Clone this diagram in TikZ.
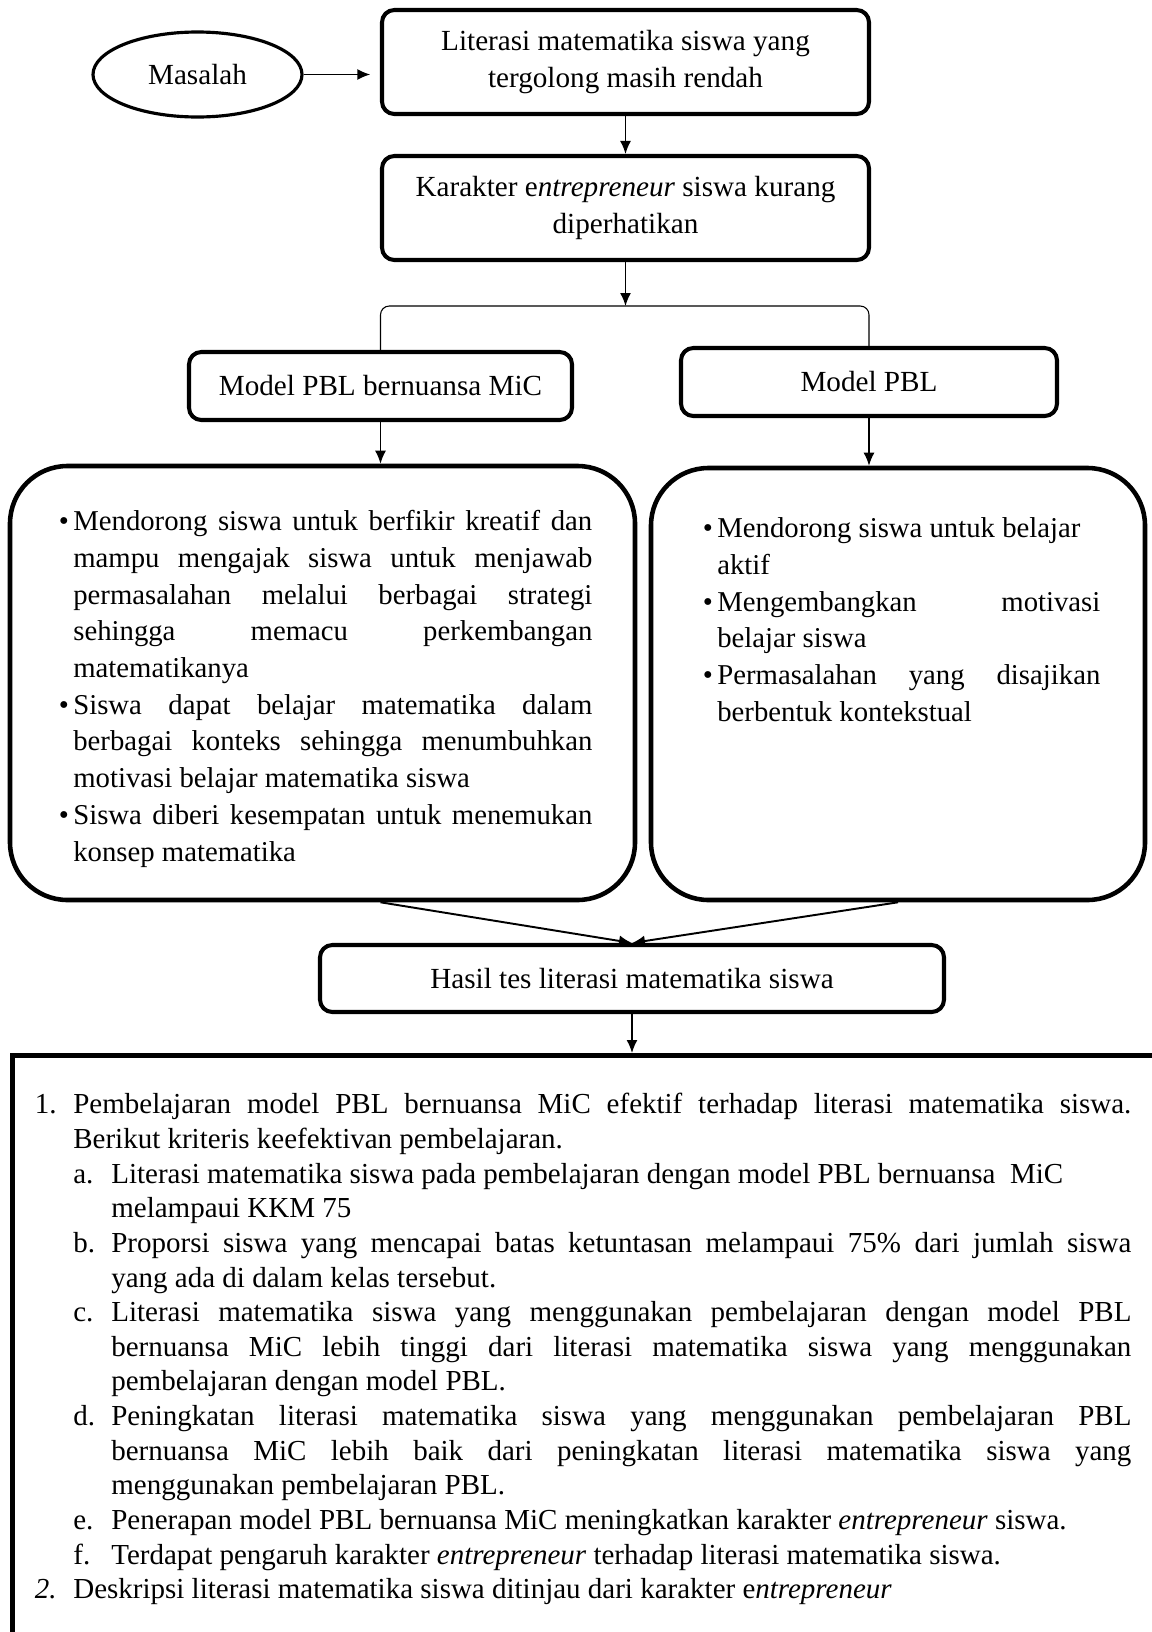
\documentclass[tikz,border=0pt]{standalone}
\usepackage{fontspec}
\setmainfont{Liberation Serif}
\usepackage{enumitem}
\usetikzlibrary{positioning, shapes.geometric, arrows.meta, calc}

\hyphenpenalty=10000
\exhyphenpenalty=10000
\tolerance=9999
\hbadness=10000

\setlist{topsep=0pt, partopsep=0pt, itemsep=0pt, parsep=0pt}
\setlist[itemize]{label=\textbullet, leftmargin=0.28cm, labelsep=0.09cm}
\setlist[enumerate,1]{label=\arabic*., leftmargin=0.77cm, labelwidth=0.77cm, labelsep=0pt, align=left}
\setlist[enumerate,2]{label=\alph*., leftmargin=0.76cm, labelwidth=0.76cm, labelsep=0pt, align=left}

\tikzset{
  masalah/.style={draw, ellipse, line width=1.8pt, minimum width=4.18cm, minimum height=1.70cm, inner sep=0pt, font=\fontsize{16.6}{21}\selectfont},
  kotak/.style={draw, line width=2.3pt, rounded corners=7pt, align=center, inner sep=0pt, font=\fontsize{16.6}{21}\selectfont},
  kotakbesar/.style={draw, line width=2.6pt, rounded corners=1.15cm},
  daftar/.style={anchor=north west, inner sep=0pt, align=justify, font=\fontsize{16.35}{20.9}\selectfont},
  panah/.style={-{Latex[length=2.6mm,width=2.2mm]}, line width=0.9pt},
}

\begin{document}
\begin{tikzpicture}
        \useasboundingbox (0,0) rectangle (23.04,-32.64);

        % Masalah dan kotak atas
        \node[masalah] (masalah) at (3.95,-1.49) {Masalah};
        \node[kotak, minimum width=9.74cm, minimum height=2.08cm] (literasi) at (12.51,-1.24) {Literasi matematika siswa yang\\tergolong masih rendah};
        \node[kotak, minimum width=9.74cm, minimum height=2.08cm] (karakter) at (12.51,-4.16) {Karakter e\textit{ntrepreneur} siswa kurang\\diperhatikan};

        \draw[panah, shorten >=5.5pt] (masalah.east) -- (masalah.east -| literasi.west);
        \draw[panah] (literasi.south) -- (karakter.north);

        % Model pembelajaran
        \node[kotak, minimum width=7.66cm, minimum height=1.36cm] (mic) at (7.61,-7.72) {Model PBL bernuansa MiC};
        \node[kotak, minimum width=7.52cm, minimum height=1.36cm] (pbl) at (17.38,-7.64) {Model PBL};

        \coordinate (cabang) at (12.53,-6.12);
        \draw[panah] (karakter.south) -- (karakter.south |- cabang);
        \draw[line width=0.6pt, rounded corners=5pt] (mic.north) |- (cabang) -| (pbl.north);

        % Kotak ciri-ciri
        \node[kotakbesar, minimum width=12.5cm, minimum height=8.68cm] (micbox) at (6.45,-13.66) {};
        \node[kotakbesar, minimum width=9.88cm, minimum height=8.64cm] (pblbox) at (17.96,-13.68) {};

        \draw[panah] (mic.south) -- (mic.south |- micbox.north);
        \draw[panah] (pbl.south) -- (pbl.south |- pblbox.north);

        \node[daftar, text width=10.66cm] (cirimic) at (1.18,-9.87) {%
          \begin{itemize}
            \item Mendorong siswa untuk berfikir kreatif dan\linebreak mampu mengajak siswa untuk menjawab\linebreak permasalahan melalui berbagai strategi\linebreak sehingga memacu perkembangan\linebreak matematikanya
            \item Siswa dapat belajar matematika dalam\linebreak berbagai konteks sehingga menumbuhkan\linebreak motivasi belajar matematika siswa
            \item Siswa diberi kesempatan untuk menemukan\linebreak konsep matematika
          \end{itemize}};
        \node[daftar, text width=7.94cm] (ciripbl) at (14.06,-10.01) {%
          \begin{itemize}
            \item Mendorong siswa untuk belajar\newline aktif
            \item Mengembangkan motivasi\linebreak belajar siswa
            \item Permasalahan yang disajikan\linebreak berbentuk kontekstual
          \end{itemize}};

        % Hasil
        \node[kotak, minimum width=12.48cm, minimum height=1.34cm] (hasil) at (12.64,-19.57) {Hasil tes literasi matematika siswa};
        \draw[panah, line width=1.1pt] (micbox.south -| mic.south) -- (hasil.north);
        \draw[panah, line width=1.1pt] (pblbox.south) -- (hasil.north);

        % Kesimpulan
        \node[draw, line width=2.6pt, anchor=north west, minimum width=24cm, minimum height=12.5cm] (kesimpulan) at (0.2,-21.06) {};
        \draw[panah] (hasil.south) -- (hasil.south |- kesimpulan.north);

        \node[daftar, font=\fontsize{16.5}{19.7}\selectfont, text width=21.93cm] (teks) at (0.69,-21.58) {%
          \begin{enumerate}
            \item Pembelajaran model PBL bernuansa MiC efektif terhadap literasi matematika siswa.\linebreak Berikut kriteris keefektivan pembelajaran.
            \begin{enumerate}
              \item Literasi matematika siswa pada pembelajaran dengan model PBL bernuansa~ MiC\newline melampaui KKM 75
              \item Proporsi siswa yang mencapai batas ketuntasan melampaui 75\% dari jumlah siswa\linebreak yang ada di dalam kelas tersebut.
              \item Literasi matematika siswa yang menggunakan pembelajaran dengan model PBL\linebreak bernuansa MiC lebih tinggi dari literasi matematika siswa yang menggunakan\linebreak pembelajaran dengan model PBL.
              \item Peningkatan literasi matematika siswa yang menggunakan pembelajaran PBL\linebreak bernuansa MiC lebih baik dari peningkatan literasi matematika siswa yang\linebreak menggunakan pembelajaran PBL.
              \item Penerapan model PBL bernuansa MiC meningkatkan karakter \textit{entrepreneur} siswa.
              \item Terdapat pengaruh karakter \textit{entrepreneur} terhadap literasi matematika siswa.
            \end{enumerate}
            \item[\textit{2.}] Deskripsi literasi matematika siswa ditinjau dari karakter e\textit{ntrepreneur}
          \end{enumerate}};
      \end{tikzpicture}
\end{document}
